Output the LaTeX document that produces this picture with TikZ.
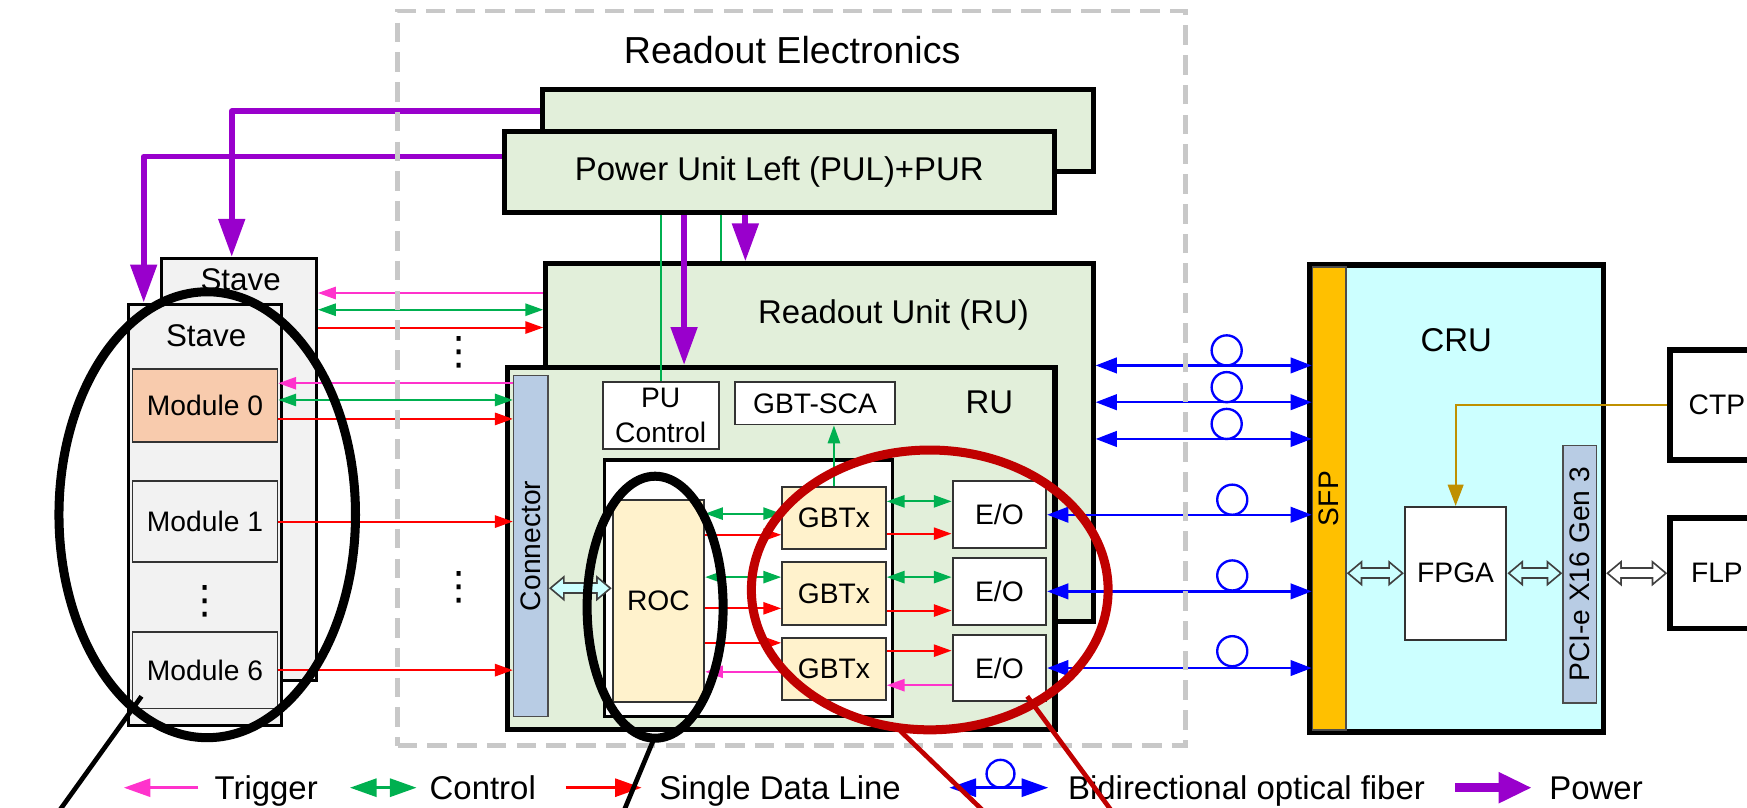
\documentclass[tikz,border=0pt]{standalone}
\usepackage{fontspec}
\setmainfont{Liberation Sans}
\newfontfamily\dotfont{DejaVu Sans}
\usepackage{xcolor}
\usepackage{tikz}
\usetikzlibrary{arrows.meta, positioning, calc}

\definecolor{pwr}{RGB}{153,0,204}
\definecolor{trg}{RGB}{255,51,204}
\definecolor{ctl}{RGB}{0,176,80}
\definecolor{dat}{RGB}{255,0,0}
\definecolor{fib}{RGB}{0,0,255}
\definecolor{rugreen}{RGB}{226,239,218}
\definecolor{stvgray}{RGB}{242,242,242}
\definecolor{modpeach}{RGB}{248,203,173}
\definecolor{chipyel}{RGB}{255,242,204}
\definecolor{conblue}{RGB}{184,204,228}
\definecolor{crucyan}{RGB}{204,255,255}
\definecolor{sfporange}{RGB}{255,192,0}
\definecolor{ctpgold}{RGB}{191,144,0}
\definecolor{hlred}{RGB}{192,0,0}
\definecolor{dashgray}{RGB}{200,200,200}

\begin{document}
\begin{tikzpicture}[
  x=0.01cm, y=-0.01cm,
  bigtxt/.style={font=\fontsize{9.6}{11.5}\selectfont},
  midtxt/.style={font=\fontsize{8.4}{10}\selectfont},
  stvtxt/.style={font=\fontsize{8}{9.6}\selectfont},
  smltxt/.style={font=\fontsize{7.2}{8.9}\selectfont},
  dottxt/.style={font=\dotfont\fontsize{10}{10}\selectfont, inner sep=0pt},
  unitbox/.style={draw, line width=1.3pt, fill=rugreen, inner sep=0pt},
  stavebox/.style={draw, line width=0.75pt, fill=stvgray, inner sep=0pt},
  modbox/.style={draw=black!80, line width=0.45pt, fill=stvgray, inner sep=0pt, smltxt},
  chip/.style={draw=black!80, line width=0.5pt, fill=white, inner sep=0pt, align=center, smltxt},
  slot/.style={draw=black!70, line width=0.4pt, inner sep=0pt},
  outbox/.style={draw, line width=1.4pt, fill=white, inner sep=0pt, smltxt},
  dashbox/.style={draw=dashgray, line width=1.2pt, dash pattern=on 5pt off 2.6pt, inner sep=0pt},
  trig/.style={->, >={Triangle[length=1.6mm,width=1.1mm]}, draw=trg, line width=0.5pt},
  ctrl/.style={<->, >={Triangle[length=1.6mm,width=1.1mm]}, draw=ctl, line width=0.5pt},
  dline/.style={->, >={Triangle[length=1.6mm,width=1.1mm]}, draw=dat, line width=0.5pt},
  scaline/.style={->, >={Triangle[length=1.6mm,width=1.1mm]}, draw=ctl, line width=0.5pt},
  fiber/.style={<->, >={Triangle[length=1.9mm,width=1.4mm]}, draw=fib, line width=0.6pt},
  fibloop/.style={draw=fib, line width=0.6pt},
  power/.style={->, >={Triangle[length=3.4mm,width=2.3mm]}, draw=pwr, line width=1.5pt, line join=round},
  pwrctl/.style={draw=ctl, line width=0.5pt},
  clkline/.style={->, >={Triangle[length=1.9mm,width=1.4mm]}, draw=ctpgold, line width=0.5pt},
  widearr/.style={draw=#1, line width=2.1pt,
    {Triangle[length=2.83pt,width=4.53pt]}-{Triangle[length=2.83pt,width=4.53pt]},
    shorten <=0.72pt, shorten >=0.72pt,
    preaction={draw=black!75, line width=3pt,
      {Triangle[length=4pt,width=6.4pt]}-{Triangle[length=4pt,width=6.4pt]},
      shorten <=0pt, shorten >=0pt}},
  widearr/.default=crucyan,
  ring/.style={line width=2.3pt},
  pointer/.style={line width=1.2pt},
  legtip/.style={>={Triangle[length=2.4mm,width=1.6mm]}, line width=0.9pt}
]
  \useasboundingbox (0,0) rectangle (1568,725);
  \clip (0,0) rectangle (1568,725);

  % staves
  \node[stavebox, minimum width=1.39cm, minimum height=3.79cm] (stavb) at (214.5,421.5) {};
  \node[stvtxt] (stavbtxt) at (216,251) {Stave};
  \node[stavebox, minimum width=1.38cm, minimum height=3.78cm] (stavf) at (184,462) {};
  \node[stvtxt] (stavftxt) at (185,301) {Stave};
  \node[modbox, fill=modpeach, minimum width=1.3cm, minimum height=0.66cm] (mod0) at (184,364) {Module 0};
  \node[modbox, minimum width=1.3cm, minimum height=0.73cm, below=0.33cm of mod0] (mod1) {Module 1};
  \node[modbox, minimum width=1.3cm, minimum height=0.69cm] (mod6) at (184,601.5) {Module 6};
  \node[dottxt] (moddots) at (184,540) {⋮};

  % power units
  \node[unitbox, minimum width=4.94cm, minimum height=0.74cm] (pur) at (734,117) {};
  \node[unitbox, midtxt, minimum width=4.93cm, minimum height=0.73cm] (pul) at (699.5,154.5) {Power Unit Left (PUL)+PUR};

  % readout units
  \node[unitbox, minimum width=4.91cm, minimum height=3.21cm] (rub) at (735.5,397.5) {};
  \node[midtxt] (rubtxt) at (802,283) {Readout Unit (RU)};
  \node[unitbox, minimum width=4.91cm, minimum height=3.25cm] (ruf) at (701.3,492.5) {};
  \node[midtxt] (ruftxt) at (888,361) {RU};
  \node[slot, fill=conblue, minimum width=0.31cm, minimum height=3.06cm] (conn) at (476.5,490) {};
  \node[smltxt, rotate=90] (conntxt) at (conn) {Connector};
  \node[chip, minimum width=1.04cm, minimum height=0.6cm] (puc) at (593,373) {PU\\Control};
  \node[chip, minimum width=1.43cm, minimum height=0.38cm] (sca) at (731.5,362) {GBT-SCA};
  \node[draw, line width=0.8pt, fill=white, minimum width=2.58cm, minimum height=2.3cm] (rocbox) at (672,528) {};
  \node[chip, fill=chipyel, minimum width=0.82cm, minimum height=1.81cm] (roc) at (591,539.5) {ROC};
  \node[chip, fill=chipyel, minimum width=0.93cm, minimum height=0.56cm] (gbtx1) at (748.5,465) {GBTx};
  \node[chip, fill=chipyel, minimum width=0.93cm, minimum height=0.56cm, below=0.1cm of gbtx1] (gbtx2) {GBTx};
  \node[chip, fill=chipyel, minimum width=0.93cm, minimum height=0.56cm, below=0.1cm of gbtx2] (gbtx3) {GBTx};
  \node[chip, minimum width=0.84cm, minimum height=0.6cm] (eo1) at (897,462) {E/O};
  \node[chip, minimum width=0.84cm, minimum height=0.6cm, below=0.07cm of eo1] (eo2) {E/O};
  \node[chip, minimum width=0.84cm, minimum height=0.6cm, below=0.07cm of eo2] (eo3) {E/O};

  % CRU and outside
  \node[draw, line width=1.4pt, fill=crucyan, minimum width=2.63cm, minimum height=4.19cm] (cru) at (1307.5,447.5) {};
  \node[midtxt] (crutxt) at (1307,305) {CRU};
  \node[slot, fill=sfporange, minimum width=0.3cm, minimum height=4.15cm] (sfp) at (1193,447.5) {};
  \node[smltxt, rotate=90] (sfptxt) at (sfp) {SFP};
  \node[chip, minimum width=0.91cm, minimum height=1.19cm] (fpga) at (1306.5,514.5) {FPGA};
  \node[slot, fill=conblue, minimum width=0.3cm, minimum height=2.31cm] (pcie) at (1418,515.5) {};
  \node[smltxt, rotate=90] (pcietxt) at (pcie) {PCI-e X16 Gen 3};
  \node[outbox, minimum width=0.84cm, minimum height=0.99cm] (ctp) at (1541,363.5) {CTP};
  \node[outbox, minimum width=0.84cm, minimum height=0.99cm] (flp) at (1541,514.5) {FLP};

  % power lines
  \draw[power] ([yshift=0.17cm]pur.west) -| ([xshift=-0.065cm]stavb.north);
  \draw[power] ([yshift=0.14cm]pul.west) -| ([xshift=-0.55cm]stavf.north);
  \draw[pwrctl] (puc.north |- pul.south) -- (puc.north);
  \draw[power] (pul.south -| 614,0) -- (ruf.north -| 614,0);
  \draw[pwrctl] (pul.south -| 647,0) -- (rub.north -| 647,0);
  \draw[power] (pul.south -| 669,0) -- (rub.north -| 669,0);

  % stave links
  \draw[trig] (rub.west |- 0,263) -- (stavb.east |- 0,263);
  \draw[ctrl] (stavb.east |- 0,278) -- (rub.west |- 0,278);
  \draw[dline] (stavb.east |- 0,294) -- (rub.west |- 0,294);
  \draw[trig] (conn.west |- 0,344) -- (mod0.east |- 0,344);
  \draw[ctrl] (mod0.east |- 0,359) -- (conn.west |- 0,359);
  \draw[dline] (mod0.east |- 0,376) -- (conn.west |- 0,376);
  \draw[dline] (mod1) -- (conn.west |- mod1);
  \draw[dline] (mod6) -- (conn.west |- mod6);
  \node[dottxt] (dotsa) at (412,316) {⋮};
  \node[dottxt] (dotsb) at (412,527) {⋮};

  % inside RU
  \draw[widearr] (conn.east |- 0,528) -- (roc.west |- 0,528);
  \draw[scaline] (gbtx1.north) -- (gbtx1.north |- sca.south);
  \draw[ctrl] (roc.east |- 0,461) -- (gbtx1.west |- 0,461);
  \draw[dline] (roc.east |- 0,480) -- (gbtx1.west |- 0,480);
  \draw[ctrl] (roc.east |- 0,518) -- (gbtx2.west |- 0,518);
  \draw[dline] (roc.east |- 0,546) -- (gbtx2.west |- 0,546);
  \draw[dline] (roc.east |- 0,577) -- (gbtx3.west |- 0,577);
  \draw[trig] (gbtx3.west |- 0,603) -- (roc.east |- 0,603);
  \draw[ctrl] (gbtx1.east |- 0,450) -- (eo1.west |- 0,450);
  \draw[dline] (gbtx1.east |- 0,479) -- (eo1.west |- 0,479);
  \draw[ctrl] (gbtx2.east |- 0,518) -- (eo2.west |- 0,518);
  \draw[dline] (gbtx2.east |- 0,548) -- (eo2.west |- 0,548);
  \draw[dline] (gbtx3.east |- 0,584) -- (eo3.west |- 0,584);
  \draw[trig] (eo3.west |- 0,615) -- (gbtx3.east |- 0,615);

  % optical fibers
  \draw[fiber] (rub.east |- 0,328) -- (sfp.west |- 0,328);
  \draw[fiber] (rub.east |- 0,361) -- (sfp.west |- 0,361);
  \draw[fiber] (rub.east |- 0,394) -- (sfp.west |- 0,394);
  \draw[fiber] (eo1) -- (sfp.west |- eo1);
  \draw[fiber] (eo2) -- (sfp.west |- eo2);
  \draw[fiber] (eo3) -- (sfp.west |- eo3);
  \foreach \yy in {328,361,394}
    \draw[fibloop] (1101,\yy-13.5) circle[radius=0.135cm];
  \foreach \yy in {462,530,598}
    \draw[fibloop] (1106,\yy-13.5) circle[radius=0.135cm];

  % CRU links
  \draw[clkline] (ctp.west) -| (fpga.north);
  \draw[widearr] (sfp.east |- fpga) -- (fpga);
  \draw[widearr] (fpga) -- (pcie.west |- fpga);
  \draw[widearr=white] (cru.east |- flp) -- (flp);

  % readout electronics frame
  \node[dashbox, minimum width=7.07cm, minimum height=6.59cm] (relec) at (710.5,339.5) {};
  \node[bigtxt] (relectxt) at (711,45) {Readout Electronics};

  % legend
  \coordinate (lgtrgA) at (178,707);
  \coordinate (lgtrgB) at (111,707);
  \draw[trig, legtip] (lgtrgA) -- (lgtrgB);
  \node[midtxt, anchor=base west, inner sep=0pt] (lgtrg) at (192,718) {Trigger};
  \coordinate (lgctlA) at (314,707);
  \coordinate (lgctlB) at (374,707);
  \draw[ctrl, legtip] (lgctlA) -- (lgctlB);
  \node[midtxt, anchor=base west, inner sep=0pt] (lgctl) at (385,718) {Control};
  \coordinate (lgdatA) at (508,707);
  \coordinate (lgdatB) at (576,707);
  \draw[dline, legtip] (lgdatA) -- (lgdatB);
  \node[midtxt, anchor=base west, inner sep=0pt] (lgdat) at (591,718) {Single Data Line};
  \coordinate (lgfibA) at (852,707);
  \coordinate (lgfibB) at (941,707);
  \draw[fiber, legtip] (lgfibA) -- (lgfibB);
  \draw[fibloop] (898,694.5) circle[radius=0.125cm];
  \node[midtxt, anchor=base west, inner sep=0pt] (lgfib) at (958,718) {Bidirectional optical fiber};
  \coordinate (lgpwrA) at (1306,707);
  \coordinate (lgpwrB) at (1375,707);
  \draw[power, line width=2.2pt, >={Triangle[length=3mm,width=2.6mm]}] (lgpwrA) -- (lgpwrB);
  \node[midtxt, anchor=base west, inner sep=0pt] (lgpwr) at (1390,718) {Power};

  % highlights
  \draw[ring] (186,462) ellipse[x radius=1.33cm, y radius=2cm];
  \draw[ring] (588,545) ellipse[x radius=0.61cm, y radius=1.175cm];
  \draw[ring, hlred] (834.5,529.5) ellipse[x radius=1.6cm, y radius=1.255cm];
  \draw[pointer] (127,625) -- (48,735);
  \draw[pointer] (587,663) -- (557,735);
  \draw[pointer, hlred] (808,656) -- (890,735);
  \draw[pointer, hlred] (922,625) -- (1003,735);
\end{tikzpicture}
\end{document}
